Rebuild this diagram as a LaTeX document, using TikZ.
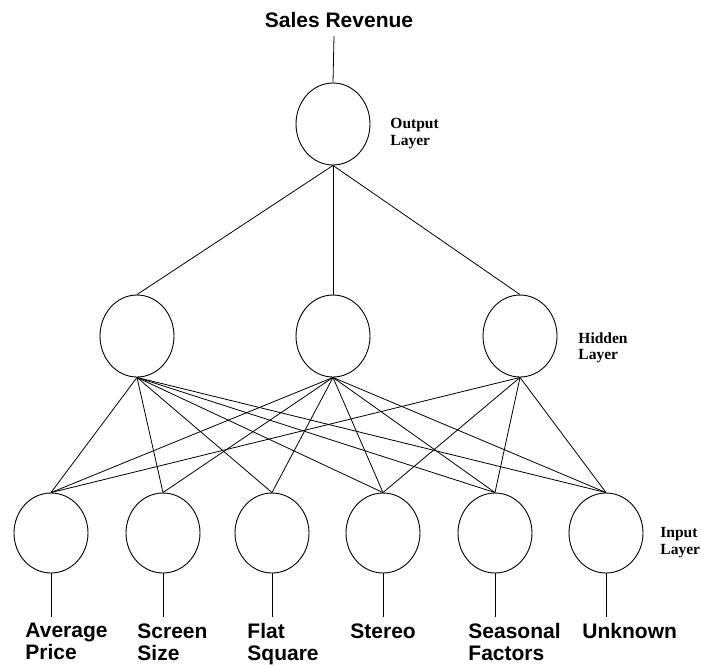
\documentclass[tikz,border=0pt]{standalone}
\usepackage{fontspec}
\setmainfont{Liberation Serif}
\newfontfamily\labelsans{Liberation Sans}
\usetikzlibrary{shapes.geometric}
\begin{document}
\begin{tikzpicture}[x=1pt,y=-1pt,line width=0.9pt,
  neuron/.style={draw,ellipse,inner sep=0pt,minimum width=74pt,minimum height=82pt},
  inneuron/.style={draw,ellipse,inner sep=0pt,minimum width=74pt,minimum height=80pt},
  bigtext/.style={inner sep=0pt,align=left,font=\labelsans\bfseries\fontsize{21}{22}\selectfont},
  layertext/.style={inner sep=0pt,align=left,anchor=north west,font=\bfseries\fontsize{15.5}{16.5}\selectfont},
  link/.style={draw,line width=0.8pt}]
\useasboundingbox (0,0) rectangle (701,665);
% title
\node[bigtext,anchor=base] (sales) at (339,27) {Sales Revenue};
% output
\node[neuron] (out) at (333,124) {};
\node[layertext] (outlbl) at (390,118) {Output\\Layer};
% hidden
\node[neuron] (h1) at (137,336) {};
\node[neuron] (h2) at (333,336) {};
\node[neuron] (h3) at (520,336) {};
\node[layertext] (hidlbl) at (578,332) {Hidden\\Layer};
% input
\node[inneuron] (i1) at (51,533) {};
\node[inneuron] (i2) at (163,533) {};
\node[inneuron] (i3) at (272,533) {};
\node[inneuron] (i4) at (383,533) {};
\node[inneuron] (i5) at (495,533) {};
\node[inneuron] (i6) at (606,533) {};
\node[layertext] (inlbl) at (660,527) {Input\\Layer};
% top connector
\coordinate (stop) at (334,36);
\draw[link] (stop) -- (out.north);
% output to hidden
\foreach \h in {h1,h2,h3} \draw[link] (out.south) -- (\h.north);
% hidden to input
\foreach \i in {i1,i2,i3,i4,i5,i6} \draw[link] (h1.south) -- (\i.north);
\foreach \i in {i1,i2,i3,i4,i5,i6} \draw[link] (h2.south) -- (\i.north);
\foreach \i in {i1,i4,i5,i6} \draw[link] (h3.south) -- (\i.north);
% input lines and labels
\foreach \i/\x in {i1/51,i2/163,i3/272,i4/383,i5/495,i6/606} {
  \coordinate (\i end) at (\x,617);
  \draw[link] (\i.south) -- (\i end);
}
\node[bigtext,anchor=north west] (l1) at (25,623) {Average\\Price};
\node[bigtext,anchor=north west] (l2) at (137,623) {Screen\\Size};
\node[bigtext,anchor=north west] (l3) at (247,623) {Flat\\Square};
\node[bigtext,anchor=north west] (l4) at (350,623) {Stereo};
\node[bigtext,anchor=north west] (l5) at (468,623) {Seasonal\\Factors};
\node[bigtext,anchor=north west] (l6) at (582,623) {Unknown};
\end{tikzpicture}
\end{document}
